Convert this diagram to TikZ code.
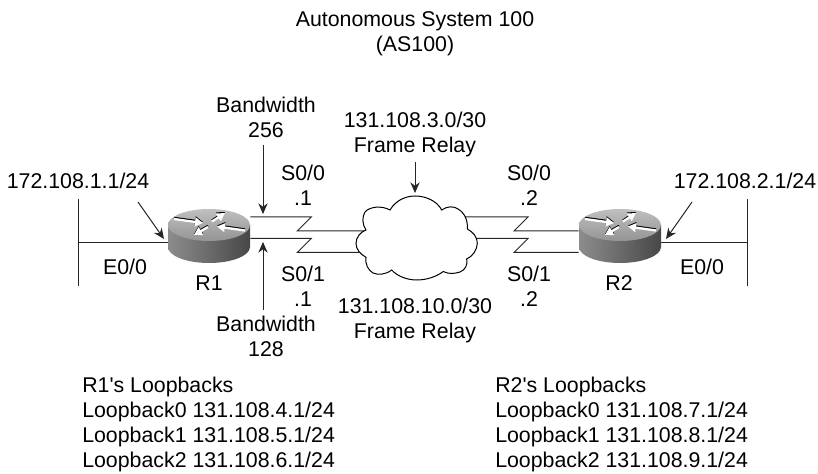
\documentclass[tikz,border=0pt]{standalone}
\usepackage{fontspec}
\setmainfont{Liberation Sans}
\usetikzlibrary{arrows.meta}
\tikzset{
  lbl/.style={inner sep=0.75pt,align=center,font=\fontsize{16}{18.75}\selectfont},
  lst/.style={lbl,anchor=north west,align=left},
  wire/.style={draw=black!85,line width=0.75pt},
  pointer/.style={draw=black!85,line width=0.75pt,-{Stealth[length=8pt,width=7pt]}},
  routerbox/.style={minimum width=61.5pt,minimum height=40.5pt,inner sep=0pt},
  routerarrow/.style={white,line width=1.7pt,-{Triangle[length=6pt,width=6.5pt]}},
  routerface/.pic={
    \shade [left color=black!45,middle color=black!6,right color=black!72]
      (-41,-11) -- (-41,11) arc [start angle=180,end angle=0,x radius=41,y radius=16] -- (41,-11) -- cycle;
    \shade [top color=black!25,bottom color=black!42] (0,-11) ellipse [x radius=41,y radius=16];
    \foreach \ax/\ay/\bx/\by in {-35/-17/-6/-13, 3/-14.5/16/-23, -1/-9/-15/-1, 36/-5.5/8/-9.5} {
      \draw [routerarrow,black,yshift=-0.8pt] (\ax,\ay) -- (\bx,\by);
      \draw [routerarrow] (\ax,\ay) -- (\bx,\by);
    }
  }
}
\begin{document}
\begin{tikzpicture}[x=0.75pt,y=0.75pt,yscale=-1,xscale=1]
  \useasboundingbox (0,0) rectangle (818,474);

  % Routers and cloud
  \node (rone) [routerbox] at (209,236) {};
  \node (rtwo) [routerbox] at (620,236) {};
  \coordinate (cloudmid) at (416,238);

  % Ethernet segments
  \coordinate (etopl) at (78,199);
  \coordinate (ebotl) at (78,286);
  \coordinate (emidl) at (78,242.5);
  \coordinate (etopr) at (747,199);
  \coordinate (ebotr) at (747,286);
  \coordinate (emidr) at (747,242.5);
  \draw [wire] (etopl) -- (ebotl);
  \draw [wire] (emidl) -- (emidl -| rone.west);
  \draw [wire] (etopr) -- (ebotr);
  \draw [wire] (emidr) -- (emidr -| rtwo.east);

  % Serial links
  \draw [wire] (rone.east |- 0,217) -- ++(61,0) -- ++(-14,14) -- (cloudmid |- 0,231);
  \draw [wire] (rone.east |- 0,238.5) -- ++(61,0) -- ++(-14,14) -- (cloudmid |- 0,252.5);
  \draw [wire] (cloudmid |- 0,217) -- (528,217) -- ++(-14,14) -- (rtwo.west |- 0,231);
  \draw [wire] (cloudmid |- 0,238.5) -- (528,238.5) -- ++(-14,14) -- (rtwo.west |- 0,252.5);

  % Cloud
  \draw [fill=white,line width=0.75pt] (390,210) .. controls (396,200) and (406,196) .. (415,196)
    .. controls (426,196) and (437,201) .. (441.7,210)
    .. controls (447,206) and (454,206) .. (458,209)
    .. controls (465,213) and (468,221) .. (467.3,229)
    .. controls (473,232) and (477.5,237) .. (477.3,243.5)
    .. controls (477,250) and (473,256) .. (466.7,259)
    .. controls (468,265) and (465,270) .. (460,272)
    .. controls (454,274) and (448,274) .. (443.3,271.5)
    .. controls (436,277) and (426,280) .. (416.7,280)
    .. controls (407,280) and (397,276) .. (391.7,270)
    .. controls (385,275) and (378,275) .. (373,273)
    .. controls (368,270) and (365,264) .. (366,257.3)
    .. controls (360,254) and (356,249) .. (356,243.5)
    .. controls (356,238) and (360,232) .. (366,230)
    .. controls (362,224) and (362,217) .. (365,212)
    .. controls (369,207) and (381,205) .. (390,210) -- cycle;

  \pic [transform shape] at (rone) {routerface};
  \pic [transform shape] at (rtwo) {routerface};

  % Text Node
  \node (title) [lbl] at (415,34) {Autonomous System 100\\(AS100)};
  \node (bwtop) [lbl] at (266,117) {Bandwidth\\256};
  \node (frtop) [lbl] at (415,134.5) {131.108.3.0/30\\Frame Relay};
  \node (ifoneup) [lbl] at (303,185) {S0/0\\.1};
  \node (iftwoup) [lbl] at (529,185) {S0/0\\.2};
  \node (ifonedn) [lbl] at (303,286) {S0/1\\.1};
  \node (iftwodn) [lbl] at (529,286) {S0/1\\.2};
  \node (frbot) [lbl] at (415,320) {131.108.10.0/30\\Frame Relay};
  \node (bwbot) [lbl] at (266,336) {Bandwidth\\128};
  \node (addrone) [lbl] at (78,180.5) {172.108.1.1/24};
  \node (addrtwo) [lbl] at (745,180.5) {172.108.2.1/24};
  \node (ethone) [lbl] at (125,266.5) {E0/0};
  \node (ethtwo) [lbl] at (702,266.5) {E0/0};
  \node (nameone) [lbl] at (209,283.5) {R1};
  \node (nametwo) [lbl] at (619,283.5) {R2};
  \node (loopone) [lst] at (81,376) {R1\textquotesingle s Loopbacks\\Loopback0 131.108.4.1/24\\Loopback1 131.108.5.1/24\\Loopback2 131.108.6.1/24};
  \node (looptwo) [lst] at (494,376) {R2\textquotesingle s Loopbacks\\Loopback0 131.108.7.1/24\\Loopback1 131.108.8.1/24\\Loopback2 131.108.9.1/24};

  % Pointers
  \coordinate (tipbwtop) at (263,214);
  \coordinate (tipbwbot) at (263,242);
  \coordinate (tipfr) at (415,193);
  \coordinate (tipone) at (164,239);
  \coordinate (tiptwo) at (666,239);
  \draw [pointer] (263,145) -- (tipbwtop);
  \draw [pointer] (263,310) -- (tipbwbot);
  \draw [pointer] (415,162) -- (tipfr);
  \draw [pointer] (138,202) -- (tipone);
  \draw [pointer] (692,202) -- (tiptwo);
\end{tikzpicture}
\end{document}
